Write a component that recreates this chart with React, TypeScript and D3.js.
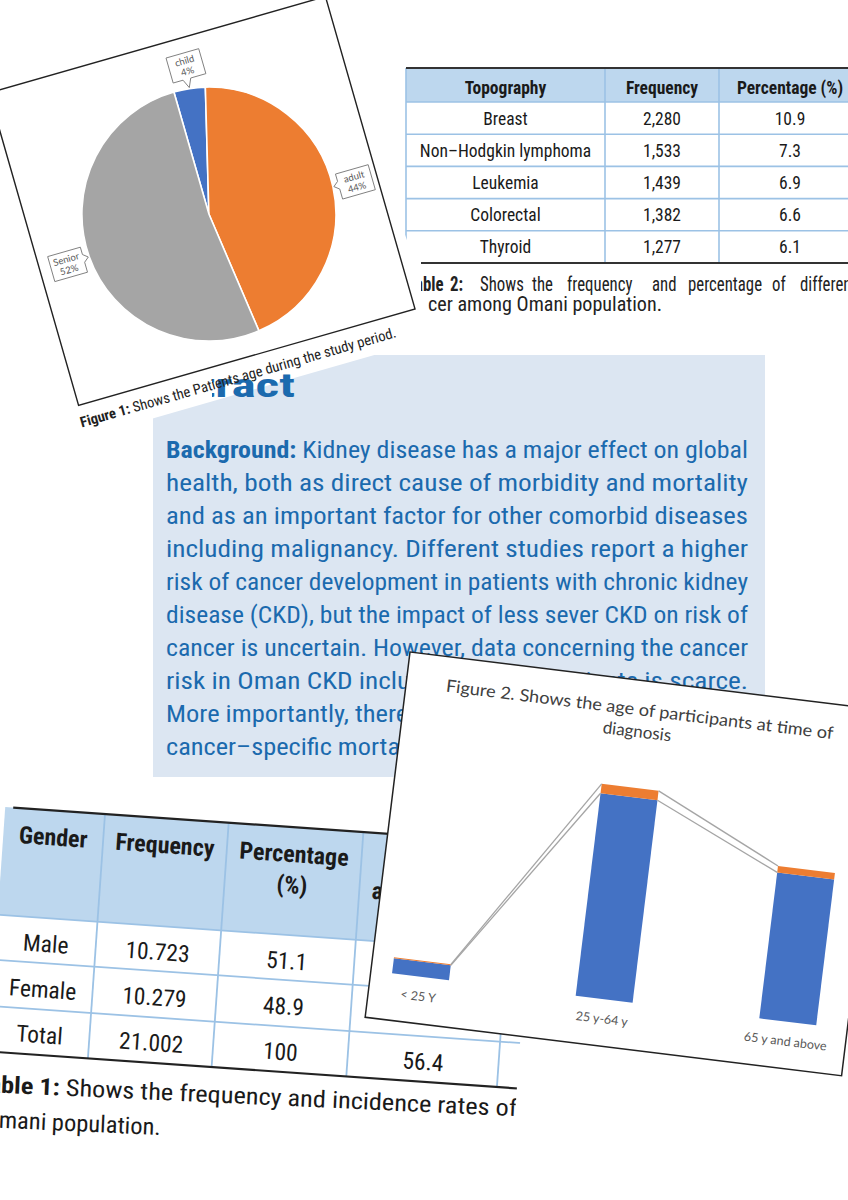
import React from "react";
import * as d3 from "d3";

// ---------- data ----------
const ageGroups = ["child", "adult", "Senior"];
const agePercent = [4, 44, 52];
const ageColors = ["#4472c4", "#ed7d31", "#a5a5a5"];

const table2Headers = ["Topography", "Frequency", "Percentage (%)"];
const topography = ["Breast", "Non\u2013Hodgkin lymphoma", "Leukemia", "Colorectal", "Thyroid"];
const topoFrequency = ["2,280", "1,533", "1,439", "1,382", "1,277"];
const topoPercent = ["10.9", "7.3", "6.9", "6.6", "6.1"];

const table1Headers = [["Gender"], ["Frequency"], ["Percentage", "(%)"], ["Incidence", "age-adjusted", "rate"]];
const genders = ["Male", "Female", "Total"];
const genderFrequency = ["10.723", "10.279", "21.002"];
const genderPercent = ["51.1", "48.9", "100"];
const genderRate = ["", "", "56.4"];

const diagnosisAges = ["< 25 Y", "25 y-64 y", "65 y and above"];
const seriesBlue = [15, 204, 147];
const seriesOrange = [1, 9.5, 6.5];

const abstractLines = [
  "Kidney disease has a major effect on global",
  "health, both as direct cause of morbidity and mortality",
  "and as an important factor for other comorbid diseases",
  "including malignancy. Different studies report a higher",
  "risk of cancer development in patients with chronic kidney",
  "disease (CKD), but the impact of less sever CKD on risk of",
  "cancer is uncertain. However, data concerning the cancer",
  "risk in Oman CKD including dialysis patients is scarce.",
  "More importantly, there are no data regarding the risk of",
  "cancer\u2013specific mortality among CKD patients in Oman.",
];

// caption words of table 2 (first line) and where each starts
const t2CaptionWords = ["2:", "Shows", "the", "frequency", "and", "percentage", "of", "different", "types"];
const t2CaptionX = [450, 480, 532, 567, 652, 688, 772, 800, 880];

const NARROW =
  "'Liberation Sans Narrow','Arial Narrow','Nimbus Sans Narrow','Roboto Condensed',Roboto,'Liberation Sans',Arial,sans-serif";
const CAL = "Lato,'Open Sans',sans-serif";
const SX = 0.84; // horizontal squeeze for the condensed caption

function calloutPath(cx: number, cy: number, w: number, h: number, tx: number, ty: number) {
  const l = cx - w / 2, r = cx + w / 2, t = cy - h / 2, b = cy + h / 2;
  const dx = tx - cx, dy = ty - cy;
  const hw = 4;
  if (Math.abs(dy) / h > Math.abs(dx) / w) {
    const bx = Math.max(l + hw + 2, Math.min(r - hw - 2, tx));
    if (dy > 0) return `M${l},${t}H${r}V${b}H${bx + hw}L${tx},${ty}L${bx - hw},${b}H${l}Z`;
    return `M${l},${t}H${bx - hw}L${tx},${ty}L${bx + hw},${t}H${r}V${b}H${l}Z`;
  }
  const by = Math.max(t + hw + 2, Math.min(b - hw - 2, ty));
  if (dx > 0) return `M${l},${t}H${r}V${by - hw}L${tx},${ty}L${r},${by + hw}V${b}H${l}Z`;
  return `M${l},${t}H${r}V${b}H${l}V${by + hw}L${tx},${ty}L${l},${by - hw}Z`;
}

export default function App() {
  // ---- pie (figure 1) ----
  const PIE_R = 127;
  const pieData = d3.pie<number>().sort(null).value((d) => d)(agePercent);
  const arc = d3.arc<d3.PieArcDatum<number>>().innerRadius(0).outerRadius(PIE_R);

  // ---- table 2 ----
  const t2Cols = [406, 605, 719, 861];
  const t2Rows = d3.range(topography.length + 1).map((i) => 102 + i * 32.2);

  // ---- table 1 ----
  const t1Cols = [-100, 0, 124, 259, 410, 470];
  const t1Rows = [0, 108, 153, 199.5, 245];

  // ---- figure 2 ----
  const x = d3.scaleBand<string>().domain(diagnosisAges).range([-42.5, 512.5]).paddingInner(0.69).paddingOuter(0.345);
  const y = d3.scaleLinear().domain([0, 220]).range([321, 101]);
  const rows = diagnosisAges.map((c, i) => ({ cat: c, blue: seriesBlue[i], orange: seriesOrange[i] }));
  const stacked = d3.stack<any>().keys(["blue", "orange"])(rows);
  const barColors: Record<string, string> = { blue: "#4472c4", orange: "#ed7d31" };
  const bw = x.bandwidth();

  return (
    <svg width={848} height={1200} style={{ position: "absolute", left: 0, top: 0, background: "#fff" }}>
      <defs>
        <clipPath id="t2clip">
          <polygon points="404,55 860,55 860,330 428,330 428,296 421,296 421,262 415,262 404,232" />
        </clipPath>
        <clipPath id="absHead">
          <rect x={212} y={340} width={200} height={70} />
        </clipPath>
        <clipPath id="t1clip">
          <rect x={-140} y={-20} width={570} height={380} />
        </clipPath>
      </defs>

      {/* ===== Table 2 ===== */}
      <g clipPath="url(#t2clip)" fontFamily={NARROW}>
        <rect x={t2Cols[0]} y={68} width={t2Cols[3] - t2Cols[0]} height={34} fill="#bdd7ee" />
        <rect x={t2Cols[0]} y={102} width={t2Cols[3] - t2Cols[0]} height={161} fill="#fff" />
        {t2Rows.slice(0, -1).map((ry, i) => (
          <line key={"r" + i} x1={t2Cols[0]} x2={t2Cols[3]} y1={ry} y2={ry} stroke="#9cc2e5" strokeWidth={1.6} />
        ))}
        {t2Cols.slice(0, 3).map((cx, i) => (
          <line key={"c" + i} x1={cx} x2={cx} y1={68} y2={263} stroke="#9cc2e5" strokeWidth={1.6} />
        ))}
        <line x1={t2Cols[0]} x2={t2Cols[3]} y1={68} y2={68} stroke="#333" strokeWidth={2} />
        <line x1={t2Cols[0]} x2={t2Cols[3]} y1={263} y2={263} stroke="#333" strokeWidth={2} />
        {table2Headers.map((h, i) => (
          <text key={h} x={(t2Cols[i] + t2Cols[i + 1]) / 2} y={94} textAnchor="middle" fontSize={17.5} fontWeight="bold" fill="#1a1a1a">
            {h}
          </text>
        ))}
        {topography.map((t, i) => {
          const by = (t2Rows[i] + t2Rows[i + 1]) / 2 + 6.5;
          return (
            <g key={t} fontSize={17.5} fill="#1a1a1a" textAnchor="middle">
              <text x={(t2Cols[0] + t2Cols[1]) / 2} y={by}>{t}</text>
              <text x={(t2Cols[1] + t2Cols[2]) / 2} y={by}>{topoFrequency[i]}</text>
              <text x={(t2Cols[2] + t2Cols[3]) / 2} y={by}>{topoPercent[i]}</text>
            </g>
          );
        })}
        <g transform={`scale(${SX},1)`}>
          <text y={291} fontSize={20} fill="#222">
            <tspan x={423 / SX} textAnchor="end" fontWeight="bold">Ta</tspan>
            <tspan x={423 / SX} fontWeight="bold">ble </tspan>
            {t2CaptionWords.map((w, i) => (
              <tspan key={w + i} x={t2CaptionX[i] / SX} fontWeight={i === 0 ? "bold" : "normal"}>
                {w + " "}
              </tspan>
            ))}
          </text>
          <text x={428 / SX} y={311} fontSize={20} fill="#222" textAnchor="end">can</text>
        </g>
        <text x={428} y={311} fontSize={20} fill="#222" textLength={234} lengthAdjust="spacingAndGlyphs">
          cer among Omani population.
        </text>
      </g>

      {/* ===== Abstract panel ===== */}
      <g fontFamily={NARROW}>
        <rect x={153} y={355} width={612} height={422} fill="#dce6f2" />
        {abstractLines.map((ln, i) => (
          <text key={i} x={166} y={458 + i * 33} fontSize={23.5} fill="#1b6aae" textLength={582} lengthAdjust="spacingAndGlyphs">
            {i === 0 ? <tspan fontWeight="bold">Background: </tspan> : null}
            {ln}
          </text>
        ))}
      </g>

      {/* ===== Figure 1 paper (pie) ===== */}
      <g transform="translate(-11,93) rotate(-16)">
        <rect x={-20} y={0} width={370} height={358} fill="#fff" />
        <rect x={0} y={0} width={350} height={325} fill="#fff" stroke="#222" strokeWidth={1.4} />
        <g transform="translate(178,177)">
          {pieData.map((d, i) => (
            <path key={ageGroups[i]} d={arc(d) as string} fill={ageColors[i]} stroke="#fff" strokeWidth={1.6} />
          ))}
          {pieData.map((d, i) => {
            const mid = (d.startAngle + d.endAngle) / 2;
            const cx = 150 * Math.sin(mid), cy = -150 * Math.cos(mid);
            const tx = (PIE_R + 1) * Math.sin(mid), ty = -(PIE_R + 1) * Math.cos(mid);
            return (
              <g key={"lab" + i}>
                <path d={calloutPath(cx, cy, 34, 26, tx, ty)} fill="#fff" stroke="#7f7f7f" strokeWidth={0.9} />
                <text x={cx} y={cy - 2} textAnchor="middle" fontFamily={CAL} fontSize={9.5} fill="#595959">{ageGroups[i]}</text>
                <text x={cx} y={cy + 9} textAnchor="middle" fontFamily={CAL} fontSize={9.5} fill="#595959">{agePercent[i]}%</text>
              </g>
            );
          })}
        </g>
      </g>

      {/* Abstract heading peeking out */}
      <g clipPath="url(#absHead)">
        <text x={120} y={397} fontFamily={NARROW} fontWeight="bold" fontSize={34} fill="#1b6aae" textLength={175} lengthAdjust="spacingAndGlyphs">
          Abstract
        </text>
      </g>

      {/* Figure 1 caption */}
      <g transform="translate(-11,93) rotate(-16)">
        <text x={-3} y={347} fontFamily={NARROW} fontSize={14.5} fill="#222" textLength={328} lengthAdjust="spacingAndGlyphs">
          <tspan fontWeight="bold">Figure 1:</tspan> Shows the Patients age during the study period.
        </text>
      </g>

      {/* ===== Table 1 ===== */}
      <g transform="translate(105,814) rotate(4)">
        <g clipPath="url(#t1clip)" fontFamily={NARROW}>
          <rect x={t1Cols[0]} y={0} width={t1Cols[5] - t1Cols[0]} height={108} fill="#bdd7ee" />
          {t1Rows.slice(1, 4).map((ry, i) => (
            <line key={"h" + i} x1={t1Cols[0]} x2={t1Cols[5]} y1={ry} y2={ry} stroke="#9cc2e5" strokeWidth={1.8} />
          ))}
          {t1Cols.slice(1, 5).map((cx, i) => (
            <line key={"v" + i} x1={cx} x2={cx} y1={0} y2={245} stroke="#9cc2e5" strokeWidth={1.8} />
          ))}
          <line x1={t1Cols[0] + 8} x2={t1Cols[5]} y1={0} y2={0} stroke="#222" strokeWidth={2.2} />
          <line x1={t1Cols[0]} x2={t1Cols[5]} y1={245} y2={245} stroke="#222" strokeWidth={2.2} />
          {table1Headers.map((lines, i) =>
            lines.map((l, j) => (
              <text key={i + "-" + j} x={(t1Cols[i] + t1Cols[i + 1]) / 2} y={35 + j * 31} textAnchor="middle" fontSize={24} fontWeight="bold" fill="#1a1a1a">
                {l}
              </text>
            ))
          )}
          {genders.map((g, i) => {
            const by = [142, 187.5, 233][i];
            return (
              <g key={g} fontSize={23.5} fill="#1a1a1a" textAnchor="middle">
                <text x={(t1Cols[0] + t1Cols[1]) / 2} y={by}>{g}</text>
                <text x={(t1Cols[1] + t1Cols[2]) / 2} y={by}>{genderFrequency[i]}</text>
                <text x={(t1Cols[2] + t1Cols[3]) / 2} y={by}>{genderPercent[i]}</text>
                <text x={(t1Cols[3] + t1Cols[4]) / 2} y={by}>{genderRate[i]}</text>
              </g>
            );
          })}
          <g transform="translate(-109,286) rotate(-1.4)">
            <text x={0} y={0} fontSize={23.5} fill="#1a1a1a" textLength={541} lengthAdjust="spacingAndGlyphs">
              <tspan fontWeight="bold">Table 1:</tspan> Shows the frequency and incidence rates of
            </text>
            <text x={9} y={35} fontSize={23.5} fill="#1a1a1a" textLength={177} lengthAdjust="spacingAndGlyphs">
              Omani population.
            </text>
          </g>
        </g>
      </g>

      {/* ===== Figure 2 card ===== */}
      <g transform="translate(410,652) rotate(7)">
        <rect x={0} y={0} width={480} height={368} fill="#fff" stroke="#222" strokeWidth={1.5} />
        <text x={235} y={35} textAnchor="middle" fontFamily={CAL} fontSize={17} fill="#404040" textLength={390} lengthAdjust="spacingAndGlyphs">
          Figure 2. Shows the age of participants at time of
        </text>
        <text x={235} y={57} textAnchor="middle" fontFamily={CAL} fontSize={17} fill="#404040">
          diagnosis
        </text>
        {stacked.map((layer) =>
          layer.map((d, i) => (
            <rect
              key={layer.key + i}
              x={x(diagnosisAges[i])}
              y={y(d[1])}
              width={bw}
              height={y(d[0]) - y(d[1])}
              fill={barColors[layer.key]}
            />
          ))
        )}
        {stacked.map((layer) =>
          layer.slice(0, -1).map((d, i) => (
            <line
              key={"sl" + layer.key + i}
              x1={(x(diagnosisAges[i]) as number) + bw}
              y1={y(d[1])}
              x2={x(diagnosisAges[i + 1]) as number}
              y2={y(layer[i + 1][1])}
              stroke="#a5a5a5"
              strokeWidth={1.3}
            />
          ))
        )}
        {diagnosisAges.map((c) => (
          <text key={c} x={(x(c) as number) + bw / 2} y={345} textAnchor="middle" fontFamily={CAL} fontSize={12.5} fill="#595959">
            {c}
          </text>
        ))}
      </g>
    </svg>
  );
}
